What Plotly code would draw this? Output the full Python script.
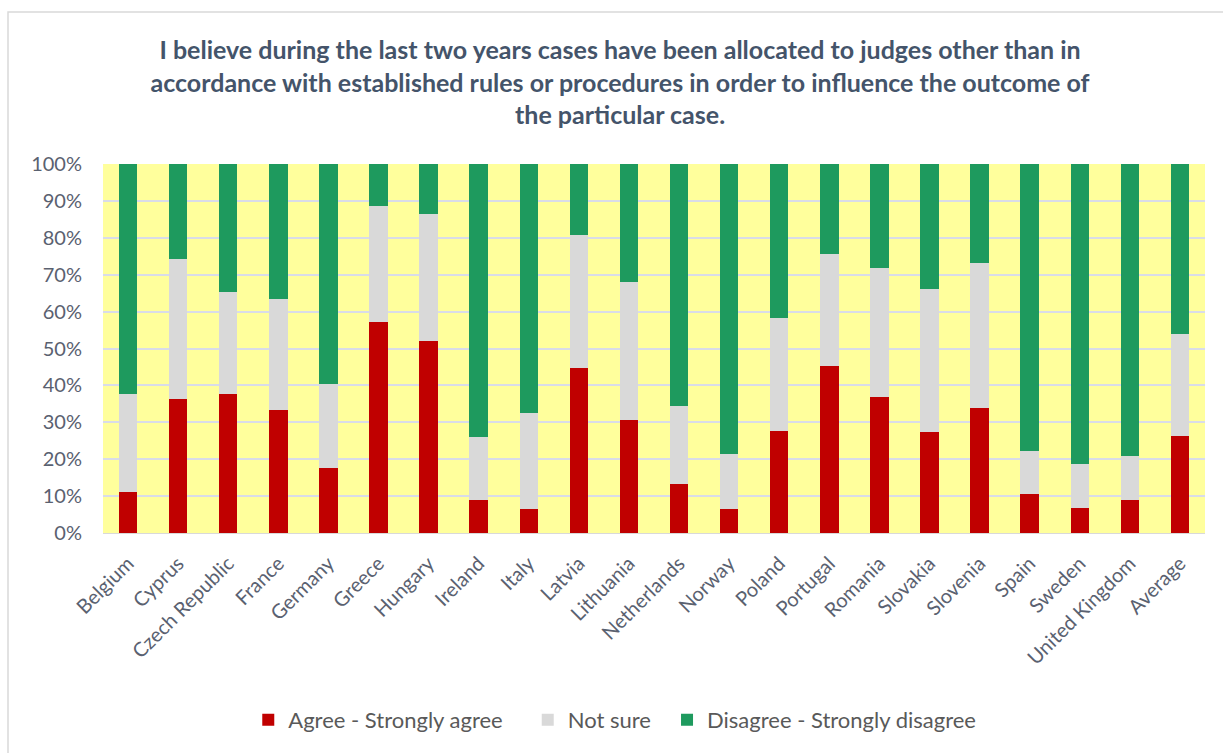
import plotly.graph_objects as go

countries = ["Belgium", "Cyprus", "Czech Republic", "France", "Germany", "Greece",
             "Hungary", "Ireland", "Italy", "Latvia", "Lithuania", "Netherlands",
             "Norway", "Poland", "Portugal", "Romania", "Slovakia", "Slovenia",
             "Spain", "Sweden", "United Kingdom", "Average"]

agree = [11.1, 36.2, 37.8, 33.3, 17.7, 57.3, 52.1, 9.0, 6.5, 44.8, 30.6, 13.2,
         6.5, 27.7, 45.2, 36.8, 27.4, 34.0, 10.7, 6.9, 9.0, 26.3]
not_sure = [26.7, 38.1, 27.4, 30.2, 22.8, 31.2, 34.3, 17.1, 26.1, 36.0, 37.5, 21.1,
            14.9, 30.7, 30.4, 35.1, 38.7, 39.3, 11.5, 11.8, 11.8, 27.5]
disagree = [62.2, 25.7, 34.8, 36.5, 59.5, 11.5, 13.6, 73.9, 67.4, 19.2, 31.9, 65.7,
            78.6, 41.6, 24.4, 28.1, 33.9, 26.7, 77.8, 81.3, 79.2, 46.2]

y_ticks = [0, 10, 20, 30, 40, 50, 60, 70, 80, 90, 100]
y_tick_labels = [f"{v}%" for v in y_ticks]

# (name, values, colour, legend id, legend left edge in container fraction)
series = [
    ("Agree - Strongly agree", agree, "#C00000", "legend", 0.203),
    ("Not sure", not_sure, "#D9D9D9", "legend2", 0.4315),
    ("Disagree - Strongly disagree", disagree, "#1E9A5E", "legend3", 0.5454),
]

font_family = "Lato, 'Open Sans', sans-serif"
label_color = "#5A6170"

fig = go.Figure()
legend_layouts = {}
for name, vals, color, leg, lx in series:
    fig.add_trace(go.Bar(x=countries, y=vals, name=name, legend=leg,
                         showlegend=True,
                         marker=dict(color=color, line=dict(width=0))))
    legend_layouts[leg] = dict(
        orientation="h", x=lx, xanchor="left", xref="container",
        y=0.044, yanchor="middle", yref="container",
        font=dict(size=22, color="#595959", family=font_family),
        itemwidth=30, bgcolor="rgba(0,0,0,0)",
    )

fig.update_layout(
    barmode="stack",
    bargap=0.63,
    showlegend=True,
    width=1223, height=753,
    margin=dict(l=103, r=18, t=164, b=220),
    paper_bgcolor="white",
    plot_bgcolor="#FFFF9C",
    font=dict(family=font_family, color=label_color),
    title=dict(
        text="<b>I believe during the last two years cases have been allocated to judges other than in<br>"
             "accordance with established rules or procedures in order to influence the outcome of<br>"
             "the particular case.</b>",
        x=0.507, xanchor="center", xref="container",
        y=0.921, yanchor="top", yref="container",
        font=dict(size=25, color="#44546A", family=font_family),
    ),
    xaxis=dict(tickangle=-45, tickfont=dict(size=20, color=label_color),
               showgrid=False, ticks="", showline=True, linecolor="#D9D9D9",
               linewidth=1, ticklabelstandoff=10),
    yaxis=dict(range=[0, 100], tickvals=y_ticks, ticktext=y_tick_labels,
               tickfont=dict(size=20, color=label_color),
               showgrid=True, gridcolor="#D9DCE8", gridwidth=2,
               zeroline=False, ticks="", ticklabelstandoff=20),
    shapes=[dict(type="rect", xref="paper", yref="paper",
                 x0=-0.0862, x1=1.03, y0=-0.62, y1=1.412,
                 line=dict(color="#D9D9D9", width=1.5), layer="below")],
    **legend_layouts,
)

fig.write_html("out.html")
